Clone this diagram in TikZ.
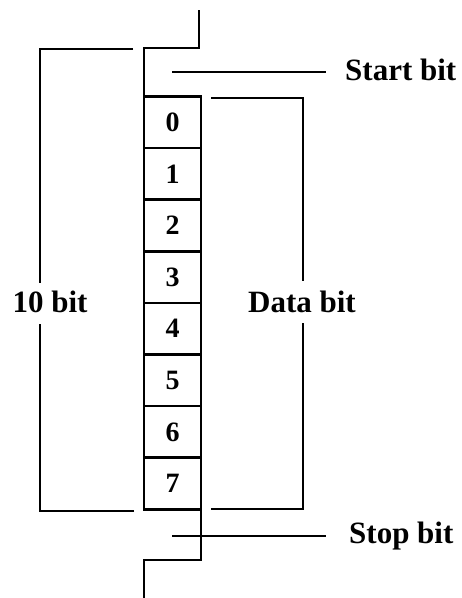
\documentclass[tikz,border=0pt]{standalone}
\usepackage{fontspec}
\setmainfont{Liberation Serif}
\usetikzlibrary{positioning,calc}

\begin{document}
\begin{tikzpicture}[
    x=1pt, y=-1pt,
    wire/.style={line width=2.5pt},
    cell/.style={draw, line width=2.5pt, outer sep=0pt, minimum width=57pt,
                 minimum height=51.6pt, inner sep=0pt,
                 font=\fontsize{28}{32}\selectfont\bfseries},
    lbl/.style={inner sep=0pt, font=\fontsize{31}{36}\selectfont\bfseries},
  ]
  \useasboundingbox (0,0) rectangle (462,598);
  \foreach \i in {0,...,7}
    \node[cell] (c\i) at (172.5, {122.3+51.6*\i}) {\i};

  \coordinate (wtop) at (199,10);
  \coordinate (hi) at (144,48);
  \coordinate (lo) at (201,560);
  \coordinate (wbot) at (144,598);
  \draw[wire] (wtop) |- (hi) -- (c0.north west);
  \draw[wire] (c7.south east) -- (lo) -| (wbot);

  \node[lbl, anchor=base west] (start) at (345,80) {Start bit};
  \node[lbl, anchor=base west] (stop) at (349,543) {Stop bit};
  \coordinate (sa) at (172,72);
  \coordinate (sb) at (172,536);
  \draw[wire] (sa) -- ([xshift=-19pt]sa -| start.west);
  \draw[wire] (sb) -- ([xshift=-23pt]sb -| stop.west);

  \node[lbl, anchor=base] (ten) at (50,312) {10 bit};
  \coordinate (lt) at (133,49);
  \coordinate (lc) at (40,49);
  \coordinate (lb) at (134,511);
  \coordinate (ld) at (40,511);
  \draw[wire] (lt) -- (lc) -- ([yshift=7pt]lc |- ten.north);
  \draw[wire] (lb) -- (ld) -- ([yshift=-11pt]ld |- ten.south);

  \node[lbl, anchor=base] (data) at (302,312) {Data bit};
  \coordinate (rt) at (211,98);
  \coordinate (rc) at (303,98);
  \coordinate (rb) at (211,509);
  \coordinate (rd) at (303,509);
  \draw[wire] (rt) -- (rc) -- ([yshift=9pt]rc |- data.north);
  \draw[wire] (rb) -- (rd) -- ([yshift=-10pt]rd |- data.south);
\end{tikzpicture}
\end{document}
